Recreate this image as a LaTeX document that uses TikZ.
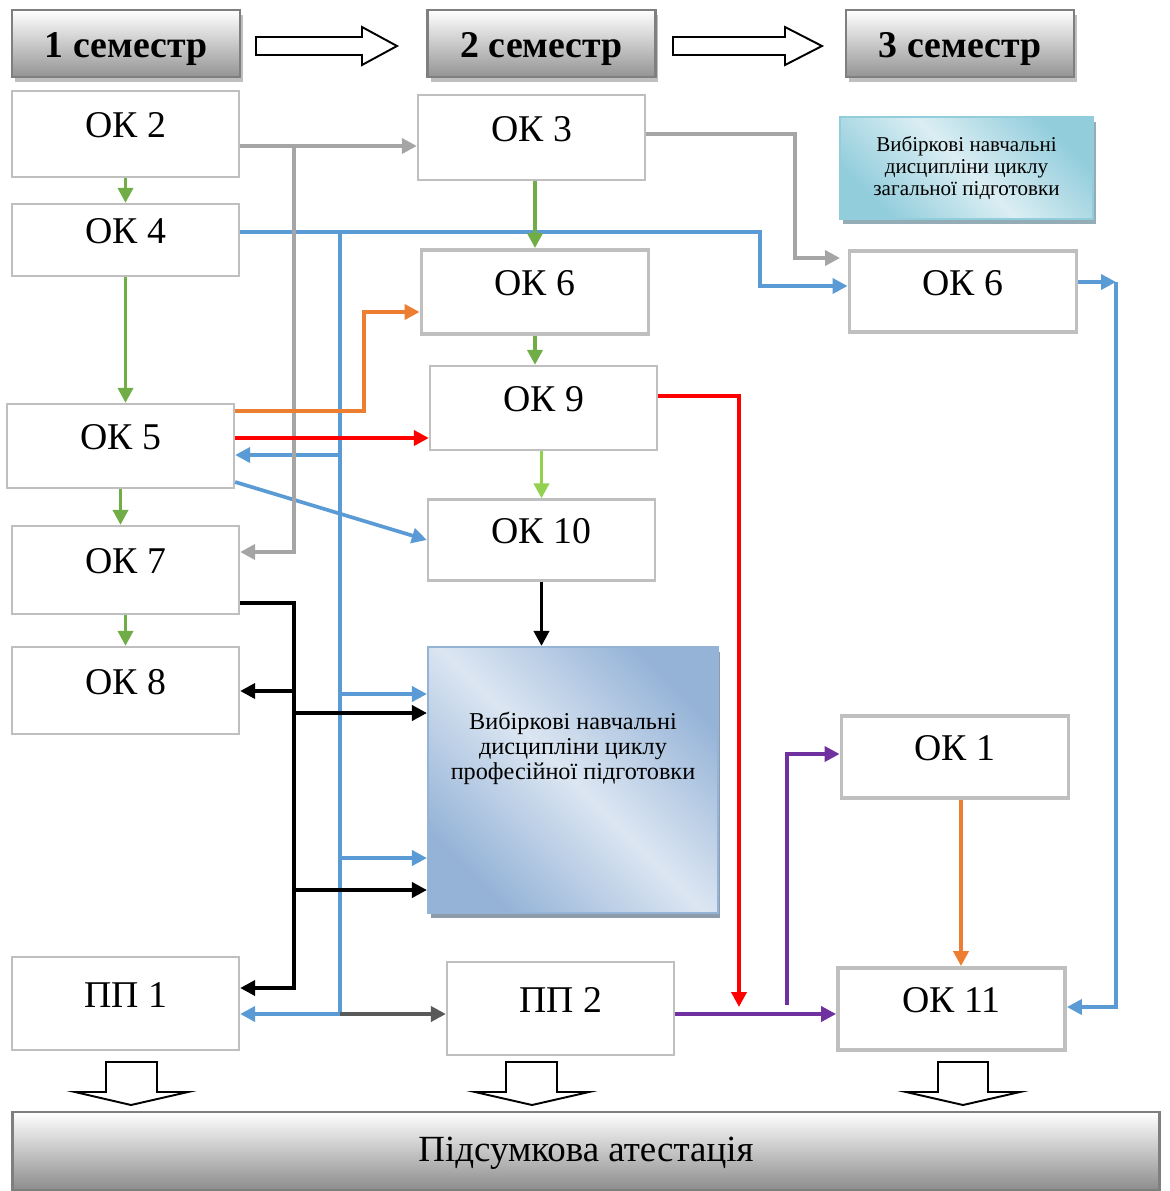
\documentclass[tikz,border=0pt]{standalone}
\usepackage{fontspec}
\setmainfont{Liberation Serif}
\usetikzlibrary{arrows.meta,shadows}

\definecolor{boxgray}{HTML}{BFBFBF}
\definecolor{semborder}{HTML}{7F7F7F}
\definecolor{grayline}{HTML}{A5A5A5}
\definecolor{greenline}{HTML}{70AD47}
\definecolor{lightgreen}{HTML}{92D050}
\definecolor{blueline}{HTML}{5B9BD5}
\definecolor{orangeline}{HTML}{ED7D31}
\definecolor{purpleline}{HTML}{7030A0}
\definecolor{darkline}{HTML}{595959}
\definecolor{genlight}{HTML}{DBEEF3}
\definecolor{gendark}{HTML}{92CDDC}
\definecolor{genshadow}{HTML}{93ACB5}
\definecolor{proflight}{HTML}{DCE6F2}
\definecolor{profdark}{HTML}{95B3D7}
\definecolor{profshadow}{HTML}{8D9BAB}

\tikzset{
  okbox/.style={rectangle, draw=boxgray, line width=1.3pt, fill=white, inner sep=0pt,
    minimum width=4.54cm, minimum height=1.7cm, font=\fontsize{21.5}{25}\selectfont,
    text height=0.5cm, text depth=0.36cm},
  thickbox/.style={okbox, line width=2.2pt},
  sembox/.style={rectangle, draw=semborder, line width=1.6pt, top color=white, bottom color=black!42,
    minimum width=4.56cm, minimum height=1.34cm, font=\bfseries\fontsize{21.5}{25}\selectfont,
    text height=0.54cm, text depth=0pt,
    drop shadow={shadow xshift=0.06cm, shadow yshift=-0.1cm, fill=black!25, opacity=1}},
  hollow/.style={draw=black, line width=1.1pt, fill=white},
  conn/.style={line width=2.1pt},
}

\begin{document}
\begin{tikzpicture}[x=0.02cm, y=-0.02cm, >={Triangle[length=0.3cm, width=0.3cm]}]
\useasboundingbox (0,0) rectangle (1170,1191);

%Semesters
\node[sembox] (sem1) at (126,43.5) {1 семестр};
\node[sembox] (sem2) at (541.5,43.5) {2 семестр};
\node[sembox] (sem3) at (960,43.5) {3 семестр};
\draw[hollow] (256,37) -- (362,37) -- (362,27) -- (397,46) -- (362,65) -- (362,55) -- (256,55) -- cycle;
\draw[hollow] (673,37) -- (785,37) -- (785,27) -- (822,46) -- (785,65) -- (785,55) -- (673,55) -- cycle;

%First semester
\node[okbox, minimum height=1.72cm] (ok2) at (125.5,134) {ОК 2};
\node[okbox, minimum height=1.44cm] (ok4) at (125.5,240) {ОК 4};
\node[okbox, minimum height=1.68cm] (ok5) at (120.5,446) {ОК 5};
\node[okbox, minimum height=1.76cm] (ok7) at (125.5,570) {ОК 7};
\node[okbox, minimum height=1.74cm] (ok8) at (125.5,690.5) {ОК 8};
\node[okbox, minimum height=1.86cm] (pp1) at (125.5,1003.5) {ПП 1};

%Second semester
\node[okbox] (ok3) at (531.5,137.5) {ОК 3};
\node[thickbox, minimum height=1.68cm] (ok6b) at (535,292) {ОК 6};
\node[okbox, minimum height=1.68cm] (ok9) at (543.5,408) {ОК 9};
\node[okbox, minimum height=1.62cm] (ok10) at (541.5,540) {ОК 10};
\node[okbox, minimum height=1.86cm] (pp2) at (560.5,1008.5) {ПП 2};

%Elective professional
\node[rectangle, draw=profdark, line width=1.2pt, top color=profdark, bottom color=profdark,
  middle color=proflight, shading angle=-45, minimum width=5.8cm, minimum height=5.32cm,
  drop shadow={shadow xshift=0.05cm, shadow yshift=-0.1cm, fill=profshadow, opacity=1}] (prof) at (573,780) {};
\node[align=center, font=\fontsize{13.8}{14.2}\selectfont] (proftext) at (573,748)
  {Вибіркові навчальні\\дисципліни циклу\\професійної підготовки};

%Third semester
\node[rectangle, draw=gendark, line width=1pt, top color=gendark, bottom color=gendark,
  middle color=genlight, shading angle=-45, minimum width=5.06cm, minimum height=2.04cm,
  align=center, font=\fontsize{12}{12.5}\selectfont,
  drop shadow={shadow xshift=0.06cm, shadow yshift=-0.1cm, fill=genshadow, opacity=1}] (genprep) at (966.5,168)
  {Вибіркові навчальні\\дисципліни циклу\\загальної підготовки};
\node[thickbox, minimum height=1.62cm] (ok6c) at (963,291.5) {ОК 6};
\node[thickbox, minimum height=1.64cm] (ok1) at (955,757) {ОК 1};
\node[thickbox, minimum height=1.64cm] (ok11) at (951.5,1009) {ОК 11};

%Final attestation
\draw[hollow] (106,1062) -- (157,1062) -- (157,1092) -- (188,1092) -- (131,1105) -- (75,1092) -- (106,1092) -- cycle;
\draw[hollow] (506,1062) -- (557,1062) -- (557,1092) -- (589,1092) -- (532,1105) -- (475,1092) -- (506,1092) -- cycle;
\draw[hollow] (938,1062) -- (988,1062) -- (988,1092) -- (1020,1092) -- (963,1105) -- (906,1092) -- (938,1092) -- cycle;
\node[rectangle, draw=semborder, line width=1.6pt, top color=white, bottom color=black!45,
  minimum width=22.96cm, minimum height=1.56cm, font=\fontsize{21}{24}\selectfont,
  text height=0.5cm, text depth=0.1cm] (att) at (586,1151) {Підсумкова атестація};

%Blue
\coordinate (btop) at (340,232);
\coordinate (bbot) at (340,1014);
\coordinate (bcorner) at (1116,282);
\draw[->, conn, blueline] (ok4.east |- btop) -| (760,286) -- (ok6c.west |- 0,286);
\draw[conn, blueline] (btop) -- (bbot);
\draw[->, conn, blueline] (btop |- 0,455) -- (ok5.east |- 0,455);
\draw[->, conn, blueline] (btop |- 0,694) -- (prof.west |- 0,694);
\draw[->, conn, blueline] (btop |- 0,858) -- (prof.west |- 0,858);
\draw[->, conn, blueline] (bbot) -- (pp1.east |- bbot);
\draw[->, conn, blueline] (ok5.east |- 0,482) -- (ok10.west);
\draw[->, conn, blueline] (ok6c.east |- bcorner) -- (bcorner);
\draw[->, conn, blueline] (bcorner) |- (ok11.east |- 0,1007);
\draw[->, conn, darkline] (bbot) -- (pp2.west |- bbot);

%Gray
\coordinate (gtop) at (294,146);
\draw[->, conn, grayline] (ok2.east |- gtop) -- (ok3.west |- gtop);
\draw[->, conn, grayline] (gtop) |- (ok7.east |- 0,552);
\draw[->, conn, grayline] (ok3.east |- 0,134) -| (795,258) -- (840,258);

%Green
\draw[->, conn, greenline] (ok2.south) -- (ok4.north);
\draw[->, conn, greenline] (ok4.south) -- (ok4.south |- ok5.north);
\draw[->, conn, greenline] (ok5.south) -- (ok5.south |- ok7.north);
\draw[->, conn, greenline] (ok7.south) -- (ok8.north);
\draw[->, conn, greenline] (ok6b.north |- ok3.south) -- (ok6b.north);
\draw[->, conn, greenline] (ok6b.south) -- (ok6b.south |- ok9.north);
\draw[->, conn, lightgreen] (ok10.north |- ok9.south) -- (ok10.north);

%Orange
\draw[->, conn, orangeline] (ok5.east |- 0,411) -| (364,312) -- (ok6b.west |- 0,312);
\draw[->, conn, orangeline] (ok1.south -| 961,0) -- (ok11.north -| 961,0);

%Red
\coordinate (redend) at (739,1007);
\draw[->, conn, red] (ok5.east |- 0,438) -- (ok9.west |- 0,438);
\draw[->, conn, red] (ok9.east |- 0,396) -| (redend);

%Black
\coordinate (ktop) at (294,603);
\draw[->, conn] (ok10.south) -- (ok10.south |- prof.north);
\draw[->, conn] (ok7.east |- ktop) -- (ktop) |- (pp1.east |- 0,988);
\draw[->, conn] (ktop |- 0,691) -- (ok8.east |- 0,691);
\draw[->, conn] (ktop |- 0,713) -- (prof.west |- 0,713);
\draw[->, conn] (ktop |- 0,890) -- (prof.west |- 0,890);

%Purple
\coordinate (pstart) at (787,1005);
\draw[->, conn, purpleline] (pp2.east |- 0,1014) -- (ok11.west |- 0,1014);
\draw[->, conn, purpleline] (pstart) |- (ok1.west |- 0,754);

\end{tikzpicture}
\end{document}
